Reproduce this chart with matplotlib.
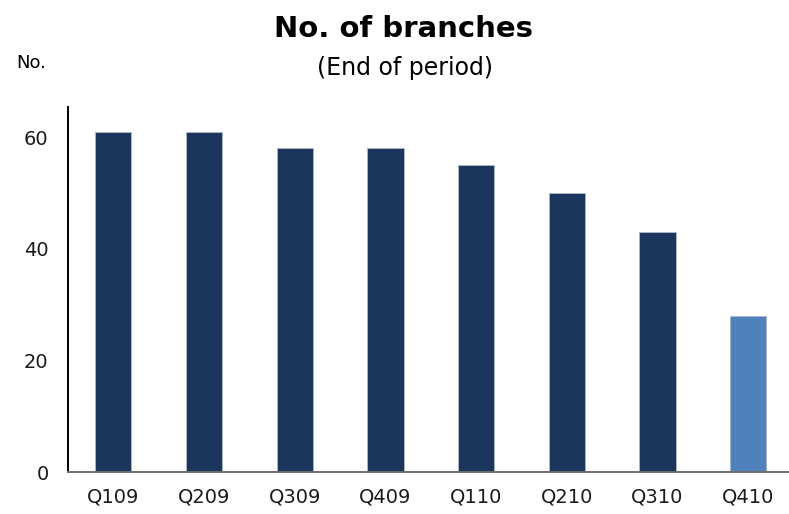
import matplotlib
matplotlib.use("Agg")
import matplotlib.pyplot as plt

quarters = ["Q109", "Q209", "Q309", "Q409", "Q110", "Q210", "Q310", "Q410"]
branches = [61, 61, 58, 58, 55, 50, 43, 28]
bar_colors = ["#1b365d"] * 7 + ["#4f81bd"]
y_ticks = [0, 20, 40, 60]

plt.rcParams["font.family"] = ["DejaVu Sans"]

fig = plt.figure(figsize=(7.89, 5.14), dpi=100)
ax = fig.add_axes([68 / 789, 1 - 472 / 514, 1 - 68 / 789, (472 - 107) / 514])

x = range(len(quarters))
ax.bar(x, branches, width=0.4, color=bar_colors, edgecolor="#a8b6c8", linewidth=0.7, zorder=2)

ax.set_xlim(-0.5, 7.45)
ax.set_ylim(0, 65.4)
ax.set_yticks(y_ticks)
ax.set_yticklabels([str(v) for v in y_ticks])
ax.set_xticks(list(x))
ax.set_xticklabels(quarters)
ax.tick_params(axis="y", length=0, pad=14, labelsize=14, labelcolor="#1a1a1a")
ax.tick_params(axis="x", length=0, pad=11, labelsize=14, labelcolor="#1a1a1a")

for side in ("top", "right"):
    ax.spines[side].set_visible(False)
ax.spines["left"].set_color("black")
ax.spines["left"].set_linewidth(1.4)
ax.spines["bottom"].set_color("#6e6e6e")
ax.spines["bottom"].set_linewidth(1.4)

fig.text(0.511, 1 - 29 / 514, "No. of branches", ha="center", va="center",
         fontsize=21, fontweight="bold")
fig.text(0.513, 1 - 68 / 514, "(End of period)", ha="center", va="center",
         fontsize=17)
fig.text(31 / 789, 1 - 63 / 514, "No.", ha="center", va="center",
         fontsize=13)

fig.savefig("out.png", dpi=100)
